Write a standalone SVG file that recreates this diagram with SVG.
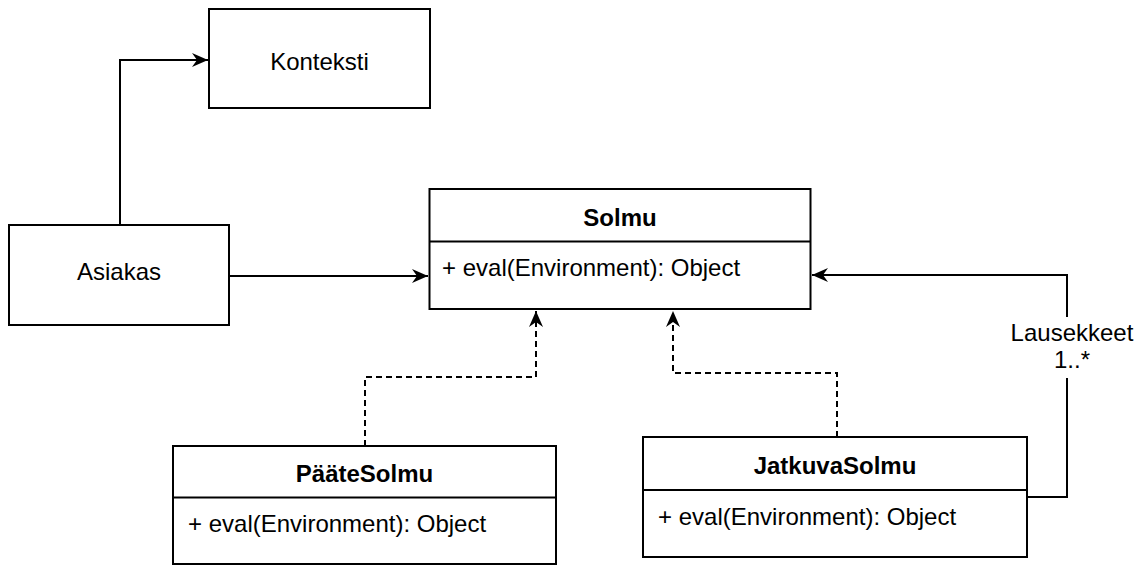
<svg xmlns="http://www.w3.org/2000/svg" width="1145" height="565" viewBox="0 0 1145 565">
  <style>
    .box { fill: #ffffff; stroke: #000000; stroke-width: 2; }
    .sep { stroke: #000000; stroke-width: 2; fill: none; }
    .txt { font-family: "Liberation Sans", Arial, Helvetica, sans-serif; font-size: 24px; fill: #000000; }
    .title { font-weight: bold; text-anchor: middle; }
    .mid { text-anchor: middle; }
    .edge { fill: none; stroke: #000000; stroke-width: 2; }
    .dashed { stroke-dasharray: 6 4; }
  </style>
  <defs>
    <marker id="arrow" viewBox="-17 -8 18 16" markerWidth="18" markerHeight="16" refX="0" refY="0" orient="auto" markerUnits="userSpaceOnUse">
      <path d="M0,0 L-16,-7 L-11,0 L-16,7 Z" fill="#000000" stroke="none"/>
    </marker>
  </defs>

  <rect width="1145" height="565" fill="#ffffff"/>

  <!-- connectors -->
  <g id="connectors">
    <path class="edge" d="M120,225 V60 H208" marker-end="url(#arrow)"/>
    <path class="edge" d="M229,276 H428" marker-end="url(#arrow)"/>
    <path class="edge dashed" d="M365,446 V377 H536 V311" marker-end="url(#arrow)"/>
    <path class="edge dashed" d="M837,437 V373 H673 V311" marker-end="url(#arrow)"/>
    <path class="edge" d="M1027,497 H1067 V275 H812" marker-end="url(#arrow)"/>
    <rect x="1008" y="317" width="130" height="61" fill="#ffffff"/>
    <text class="txt mid" x="1072" y="341">Lausekkeet</text>
    <text class="txt mid" x="1072" y="368">1..*</text>
  </g>

  <g id="kontekst">
    <rect class="box" x="209" y="9" width="221" height="99"/>
    <text class="txt mid" x="319.5" y="70">Konteksti</text>
  </g>

  <g id="asiakas">
    <rect class="box" x="9" y="225" width="220" height="100"/>
    <text class="txt mid" x="119" y="280">Asiakas</text>
  </g>

  <g id="solmu">
    <rect class="box" x="429.5" y="189" width="381" height="120"/>
    <line class="sep" x1="429.5" y1="241.5" x2="810.5" y2="241.5"/>
    <text class="txt title" x="620" y="226">Solmu</text>
    <text class="txt" x="442" y="276">+ eval(Environment): Object</text>
  </g>

  <g id="paatesolmu">
    <rect class="box" x="173" y="446" width="383" height="118"/>
    <line class="sep" x1="173" y1="497.5" x2="556" y2="497.5"/>
    <text class="txt title" x="364.5" y="482">PääteSolmu</text>
    <text class="txt" x="188" y="532">+ eval(Environment): Object</text>
  </g>

  <g id="jatkuvasolmu">
    <rect class="box" x="643" y="437" width="384" height="120"/>
    <line class="sep" x1="643" y1="490" x2="1027" y2="490"/>
    <text class="txt title" x="835" y="474">JatkuvaSolmu</text>
    <text class="txt" x="658" y="525">+ eval(Environment): Object</text>
  </g>
</svg>
